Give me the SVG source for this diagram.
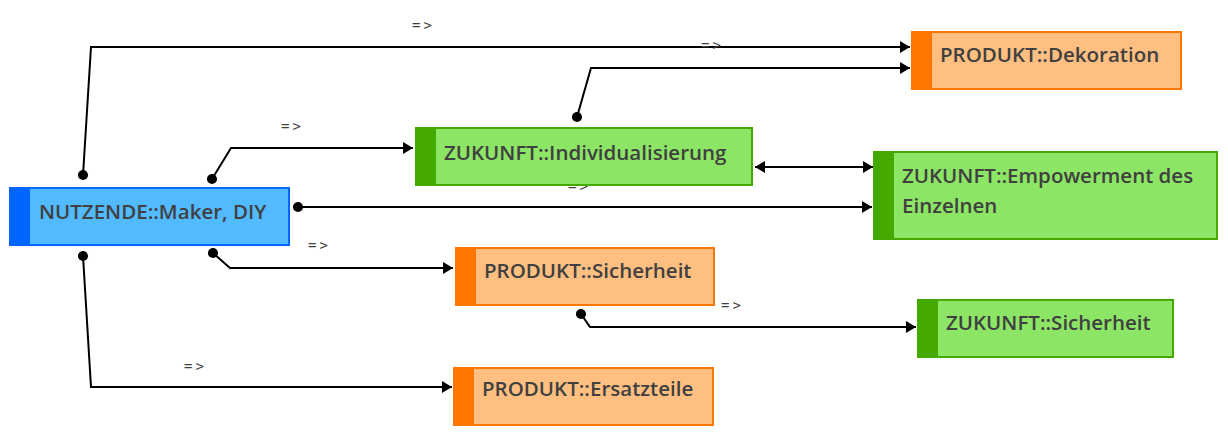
<svg xmlns="http://www.w3.org/2000/svg" width="1228" height="437" viewBox="0 0 1228 437">
<style>
.lbl{font-family:"Open Sans","Liberation Sans",sans-serif;font-weight:600;font-size:20.5px;fill:#404040}
.rel{font-family:"DejaVu Sans Mono","Liberation Mono",monospace;font-size:14px;fill:#404040;letter-spacing:3px}
.c{fill:none;stroke:#000;stroke-width:2}
.blue{fill:#52baff;stroke:#0066ff;stroke-width:2}
.green{fill:#8ce565;stroke:#44aa00;stroke-width:2}
.orange{fill:#ffbf80;stroke:#ff7700;stroke-width:2}
.sb{fill:#0066ff}.sg{fill:#44aa00}.so{fill:#ff7700}
</style>
<defs>
<marker id="ah" viewBox="0 0 10 12" refX="10" refY="6" markerWidth="10" markerHeight="12" markerUnits="userSpaceOnUse" orient="auto-start-reverse"><path d="M0,0 L10,6 L0,12 Z" fill="#000"/></marker>
<marker id="dot" viewBox="0 0 12 12" refX="6" refY="6" markerWidth="11" markerHeight="11" markerUnits="userSpaceOnUse"><circle cx="6" cy="6" r="5.5" fill="#000"/></marker>
</defs>
<rect width="1228" height="437" fill="#fff"/>
<g id="connectors">
<path class="c" d="M83,175 L91,47 L910,47" marker-start="url(#dot)" marker-end="url(#ah)"/>
<text class="rel" x="412" y="30">=&gt;</text>
<path class="c" d="M577,117 L591,68 L910,68" marker-start="url(#dot)" marker-end="url(#ah)"/>
<text class="rel" x="701" y="50">=&gt;</text>
<path class="c" d="M212,179 L231,148 L413,148" marker-start="url(#dot)" marker-end="url(#ah)"/>
<text class="rel" x="281" y="131">=&gt;</text>
<path class="c" d="M755,167 L873,167" marker-start="url(#ah)" marker-end="url(#ah)"/>
<path class="c" d="M298,207 L872,207" marker-start="url(#dot)" marker-end="url(#ah)"/>
<text class="rel" x="568" y="191">=&gt;</text>
<path class="c" d="M213,253 L230,268 L453,268" marker-start="url(#dot)" marker-end="url(#ah)"/>
<text class="rel" x="308" y="250">=&gt;</text>
<path class="c" d="M581,314 L590,327 L916,327" marker-start="url(#dot)" marker-end="url(#ah)"/>
<text class="rel" x="721" y="310">=&gt;</text>
<path class="c" d="M83,256 L91,387 L452,387" marker-start="url(#dot)" marker-end="url(#ah)"/>
<text class="rel" x="184" y="371">=&gt;</text>
</g>
<g id="n-nutzende">
<rect class="blue" x="10" y="188" width="279" height="57"/>
<rect class="sb" x="10" y="188" width="20" height="57"/>
<text class="lbl" x="39" y="219">NUTZENDE::Maker, DIY</text>
</g>
<g id="n-individualisierung">
<rect class="green" x="416" y="128" width="336" height="57"/>
<rect class="sg" x="416" y="128" width="20" height="57"/>
<text class="lbl" x="444" y="160">ZUKUNFT::Individualisierung</text>
</g>
<g id="n-empowerment">
<rect class="green" x="874" y="152" width="343" height="87"/>
<rect class="sg" x="874" y="152" width="20" height="87"/>
<text class="lbl" x="902" y="183">ZUKUNFT::Empowerment des</text>
<text class="lbl" x="902" y="213">Einzelnen</text>
</g>
<g id="n-dekoration">
<rect class="orange" x="912" y="32" width="269" height="57"/>
<rect class="so" x="912" y="32" width="20" height="57"/>
<text class="lbl" x="940" y="62">PRODUKT::Dekoration</text>
</g>
<g id="n-produkt-sicherheit">
<rect class="orange" x="456" y="248" width="258" height="57"/>
<rect class="so" x="456" y="248" width="20" height="57"/>
<text class="lbl" x="484" y="278">PRODUKT::Sicherheit</text>
</g>
<g id="n-zukunft-sicherheit">
<rect class="green" x="918" y="300" width="255" height="57"/>
<rect class="sg" x="918" y="300" width="20" height="57"/>
<text class="lbl" x="946" y="330">ZUKUNFT::Sicherheit</text>
</g>
<g id="n-ersatzteile">
<rect class="orange" x="454" y="368" width="259" height="57"/>
<rect class="so" x="454" y="368" width="20" height="57"/>
<text class="lbl" x="482" y="396">PRODUKT::Ersatzteile</text>
</g>
</svg>
